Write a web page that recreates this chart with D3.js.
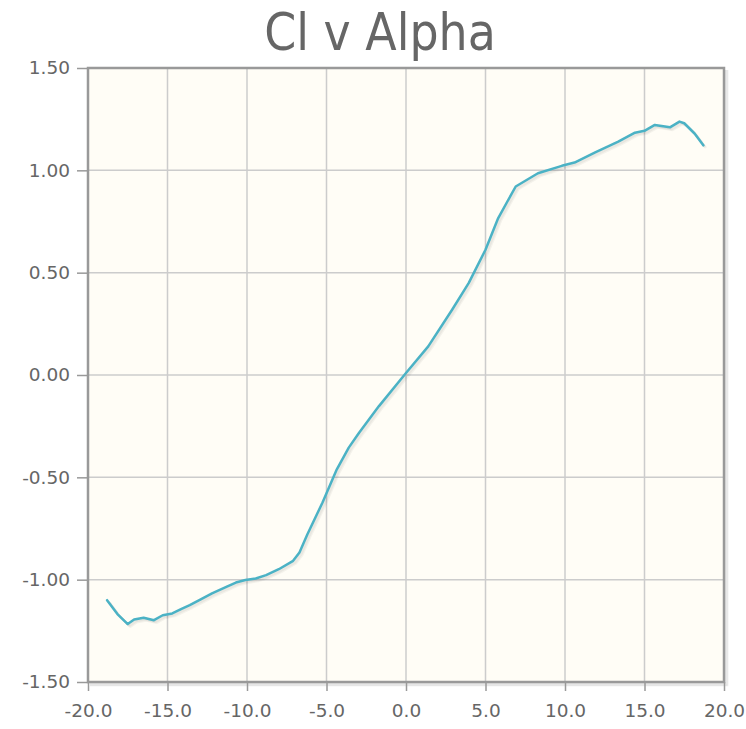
<!DOCTYPE html>
<html>
<head>
<meta charset="utf-8">
<script src="https://cdn.jsdelivr.net/npm/d3@7"></script>
<style>
  html, body { margin: 0; padding: 0; background: #ffffff; }
  svg { display: block; }
</style>
</head>
<body>
<svg id="chart" width="746" height="729"></svg>
<script>
// Lift coefficient against angle of attack
const alpha = [-18.8, -18.15, -17.5, -17.1, -16.5, -15.85, -15.3, -14.7, -14.15, -13.6,
  -13.0, -12.2, -11.3, -10.7, -10.1, -9.45, -8.8, -8.0, -7.1, -6.7, -6.2, -5.25, -4.35,
  -3.6, -2.95, -1.7, 0.0, 1.4, 2.9, 3.95, 5.0, 5.8, 6.9, 8.3, 9.8, 10.6, 11.9, 13.35,
  14.4, 15.0, 15.65, 16.6, 17.2, 17.5, 18.15, 18.7];
const cl = [-1.10, -1.168, -1.217, -1.195, -1.186, -1.198, -1.174, -1.165, -1.144, -1.124,
  -1.10, -1.067, -1.035, -1.014, -1.002, -0.994, -0.978, -0.949, -0.908, -0.867, -0.778,
  -0.623, -0.461, -0.355, -0.282, -0.152, 0.01, 0.14, 0.319, 0.45, 0.612, 0.767, 0.921,
  0.986, 1.022, 1.038, 1.088, 1.14, 1.184, 1.193, 1.222, 1.21, 1.238, 1.23, 1.18, 1.122];

const xTicks = [-20, -15, -10, -5, 0, 5, 10, 15, 20];
const yTicks = [-1.5, -1.0, -0.5, 0.0, 0.5, 1.0, 1.5];
const titleText = "Cl v Alpha";

const svg = d3.select("#chart");
const plot = { left: 88, right: 724, top: 68, bottom: 682 };

const x = d3.scaleLinear().domain([-20, 20]).range([plot.left, plot.right]);
const y = d3.scaleLinear().domain([-1.5, 1.5]).range([plot.bottom, plot.top]);

const titleFont = "'DejaVu Sans Condensed', 'DejaVu Sans', sans-serif";
const tickFont = "'DejaVu Sans', sans-serif";

// plain hyphen for negatives
const fmt = p => d => d3.format(p)(d).replace("\u2212", "-");

// title
svg.append("text")
  .attr("x", 380).attr("y", 50)
  .attr("text-anchor", "middle")
  .attr("font-family", titleFont)
  .attr("font-size", 51)
  .attr("fill", "#666666")
  .text(titleText);

// plot background
svg.append("rect")
  .attr("x", plot.left).attr("y", plot.top)
  .attr("width", plot.right - plot.left).attr("height", plot.bottom - plot.top)
  .attr("fill", "#fffdf6");

// grid
const grid = svg.append("g").attr("stroke", "#cccccc").attr("stroke-width", 1.5);
grid.selectAll(".gx").data(xTicks.slice(1, -1)).join("line")
  .attr("x1", d => x(d)).attr("x2", d => x(d))
  .attr("y1", plot.top).attr("y2", plot.bottom);
grid.selectAll(".gy").data(yTicks.slice(1, -1)).join("line")
  .attr("y1", d => y(d)).attr("y2", d => y(d))
  .attr("x1", plot.left).attr("x2", plot.right);

// border shadow
const shadow = svg.append("g").attr("fill", "none").attr("stroke", "#000");
[1, 2, 3].forEach(k => {
  shadow.append("path")
    .attr("d", `M${plot.right + 1.2 * k},${plot.top + 2} L${plot.right + 1.2 * k},${plot.bottom + 1.2 * k} L${plot.left + 2},${plot.bottom + 1.2 * k}`)
    .attr("stroke-opacity", 0.08)
    .attr("stroke-width", 1.5);
});

// axes
const xAxis = d3.axisBottom(x).tickValues(xTicks).tickFormat(fmt(".1f"))
  .tickSizeInner(9).tickSizeOuter(0).tickPadding(13);
const yAxis = d3.axisLeft(y).tickValues(yTicks).tickFormat(fmt(".2f"))
  .tickSizeInner(11).tickSizeOuter(0).tickPadding(7);

const gx = svg.append("g").attr("transform", `translate(0,${plot.bottom})`).call(xAxis);
const gy = svg.append("g").attr("transform", `translate(${plot.left},0)`).call(yAxis);
[gx, gy].forEach(g => {
  g.select(".domain").remove();
  g.selectAll(".tick line").attr("stroke", "#999999").attr("stroke-width", 1.5);
  g.selectAll(".tick text")
    .attr("fill", "#666666")
    .attr("font-family", tickFont)
    .attr("font-size", 18.5);
});
gx.selectAll(".tick text").attr("dy", "0.71em");

// series line with soft shadow
const line = d3.line().x((d, i) => x(alpha[i])).y(d => y(d));
[1, 2, 3].forEach(k => {
  svg.append("path")
    .datum(cl)
    .attr("d", line)
    .attr("fill", "none")
    .attr("stroke", "#000")
    .attr("stroke-opacity", 0.045)
    .attr("stroke-width", 2.5)
    .attr("stroke-linejoin", "round")
    .attr("transform", `translate(${0.9 * k},${0.9 * k})`);
});
svg.append("path")
  .datum(cl)
  .attr("d", line)
  .attr("fill", "none")
  .attr("stroke", "#4bb2c5")
  .attr("stroke-width", 2.5)
  .attr("stroke-linejoin", "round")
  .attr("stroke-linecap", "round");

// plot border
svg.append("rect")
  .attr("x", plot.left).attr("y", plot.top)
  .attr("width", plot.right - plot.left).attr("height", plot.bottom - plot.top)
  .attr("fill", "none")
  .attr("stroke", "#999999")
  .attr("stroke-width", 2.5);
</script>
</body>
</html>
